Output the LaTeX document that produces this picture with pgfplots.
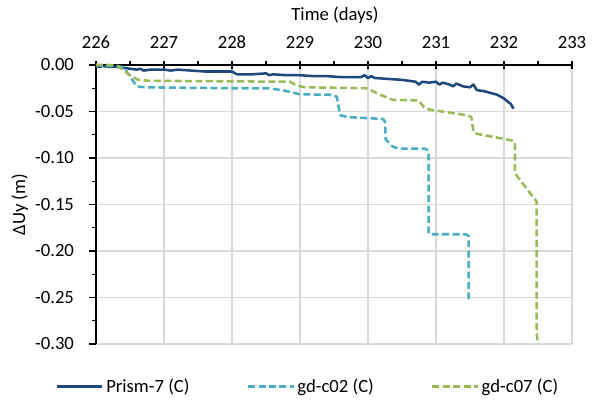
\documentclass[border=0pt]{standalone}
\usepackage{fontspec}
\setmainfont{Carlito}
\usepackage{pgfplots}
\pgfplotsset{compat=1.18}
\definecolor{cBlue}{HTML}{1F497D}
\definecolor{cCyan}{HTML}{4BACC6}
\definecolor{cGreen}{HTML}{9BBB59}
\definecolor{cGrid}{HTML}{D9D9D9}
\begin{document}
\begin{tikzpicture}[font=\fontsize{14}{17}\selectfont]
\useasboundingbox (-72pt,-49.5pt) rectangle (375.75pt,258pt);
\begin{axis}[
  scale only axis, width=357pt, height=209.25pt,
  xmin=226, xmax=233, ymin=-0.30, ymax=0,
  xtick={226,227,...,233},
  ytick={-0.30,-0.25,-0.20,-0.15,-0.10,-0.05,0},
  minor x tick num=1, minor y tick num=1,
  axis x line=top, axis y line=left,
  axis line style={-, black, line width=0.9pt},
  tick align=outside,
  major tick length=5.5pt, minor tick length=3pt,
  every major x tick/.append style={yshift=-2.75pt},
  tick style={black, line width=0.8pt},
  grid=major,
  major grid style={cGrid, line width=0.9pt},
  /pgf/number format/assume math mode=true,
  every tick label/.append style={font=\fontsize{14}{17}\selectfont},
  yticklabel style={xshift=-7.5pt, /pgf/number format/fixed, /pgf/number format/fixed zerofill, /pgf/number format/precision=2},
  xticklabel style={yshift=3.5pt, /pgf/number format/1000 sep={}},
  every axis x label/.style={at={(axis description cs:0.502,1.179)}, anchor=center, font=\fontsize{14}{17}\selectfont},
  every axis y label/.style={at={(axis description cs:-0.16,0.5)}, anchor=center, rotate=90, font=\fontsize{14}{17}\selectfont},
  xlabel={Time (days)},
  ylabel={ΔUy (m)},
  legend columns=3,
  legend style={draw=none, at={(axis description cs:0.446,-0.152)}, anchor=center,
    /tikz/every even column/.append style={column sep=41pt}, font=\fontsize{14}{17}\selectfont},
  legend image code/.code={\draw[#1] (0pt,0pt) -- (34pt,0pt);},
  clip=false,
]
\addplot[cBlue, line width=1.9pt, line join=round] coordinates {
(226.00,-0.001) (226.05,-0.002) (226.10,-0.001) (226.20,-0.002) (226.30,-0.002)
(226.40,-0.003) (226.50,-0.004) (226.60,-0.005) (226.65,-0.004) (226.70,-0.006)
(226.80,-0.005) (226.90,-0.005) (227.00,-0.005) (227.10,-0.006) (227.20,-0.005)
(227.40,-0.006) (227.60,-0.007) (227.80,-0.007) (228.00,-0.007) (228.07,-0.010)
(228.30,-0.010) (228.50,-0.009) (228.55,-0.011) (228.60,-0.010) (228.80,-0.011)
(229.00,-0.011) (229.20,-0.012) (229.40,-0.012) (229.60,-0.013) (229.80,-0.013)
(229.90,-0.013) (229.95,-0.011) (230.00,-0.014) (230.05,-0.012) (230.10,-0.014)
(230.30,-0.015) (230.50,-0.016) (230.70,-0.018) (230.75,-0.021) (230.80,-0.018)
(230.90,-0.019) (231.00,-0.018) (231.05,-0.021) (231.10,-0.019) (231.20,-0.021)
(231.25,-0.023) (231.30,-0.020) (231.40,-0.023) (231.50,-0.024) (231.55,-0.021)
(231.60,-0.027) (231.70,-0.028) (231.80,-0.030) (231.90,-0.032) (232.00,-0.036)
(232.05,-0.039) (232.10,-0.042) (232.14,-0.047)
};
\addlegendentry{Prism-7 (C)}
\addplot[cCyan, line width=1.9pt, dash pattern=on 5.2pt off 2.6pt, line join=round] coordinates {
(226.00,0) (226.40,-0.002) (226.43,-0.005) (226.60,-0.023) (226.72,-0.024)
(228.00,-0.025) (228.56,-0.025) (228.80,-0.028) (229.00,-0.0315) (229.44,-0.032)
(229.54,-0.034) (229.59,-0.054) (229.70,-0.056) (230.22,-0.058) (230.25,-0.061)
(230.26,-0.080) (230.35,-0.087) (230.44,-0.090) (230.84,-0.090) (230.89,-0.092)
(230.89,-0.181) (230.94,-0.182) (231.44,-0.182) (231.48,-0.184) (231.48,-0.253)
};
\addlegendentry{gd-c02 (C)}
\addplot[cGreen, line width=1.9pt, dash pattern=on 5.2pt off 2.6pt, line join=round] coordinates {
(226.00,0) (226.20,0) (226.32,-0.001) (226.50,-0.011) (226.62,-0.016)
(226.79,-0.017) (228.85,-0.018) (228.95,-0.022) (229.07,-0.024) (229.98,-0.025)
(230.18,-0.032) (230.37,-0.0376) (230.74,-0.038) (230.84,-0.0466) (230.91,-0.048)
(231.45,-0.054) (231.52,-0.056) (231.55,-0.072) (231.60,-0.074) (232.11,-0.081)
(232.16,-0.083) (232.16,-0.1165) (232.46,-0.145) (232.48,-0.147) (232.48,-0.288)
(232.50,-0.300)
};
\addlegendentry{gd-c07 (C)}
\end{axis}
\end{tikzpicture}
\end{document}
